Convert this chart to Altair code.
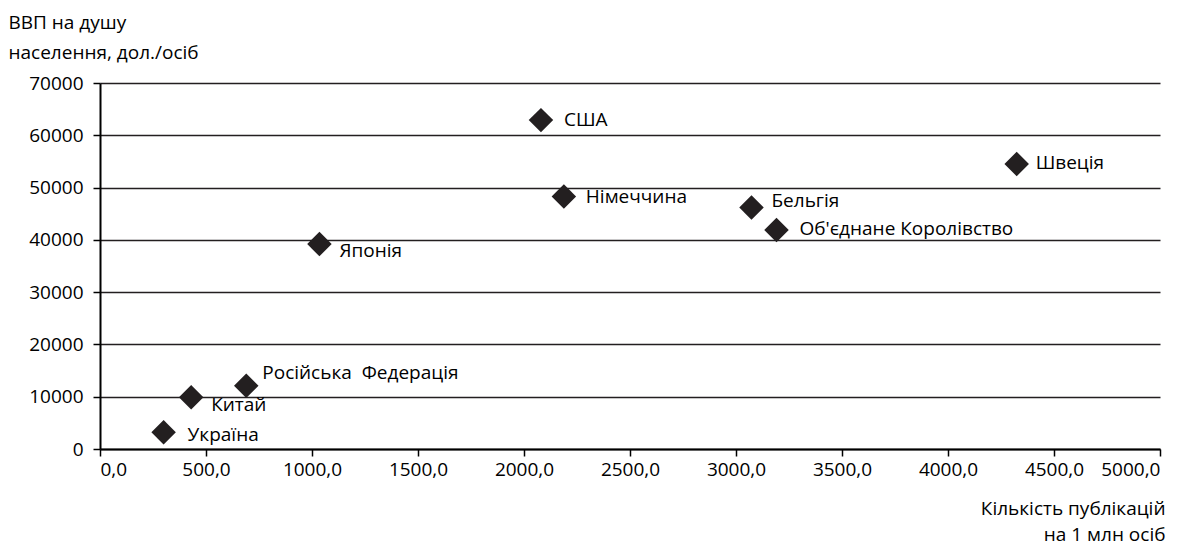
import altair as alt
import pandas as pd

countries = ["Україна", "Китай", "Російська \u00a0Федерація", "Японія", "США",
             "Німеччина", "Бельгія", "Об'єднане Королівство", "Швеція"]
publications = [300, 430, 690, 1035, 2080, 2188, 3073, 3191, 4324]
gdp = [3200, 9900, 12100, 39200, 62900, 48300, 46200, 41900, 54500]
label_dx = [24, 20, 16, 20, 23, 22, 20, 23, 19]
label_dy = [3, 8, -13, 7, 0, 1, -6, -1, -1]

x_ticks = [0, 500, 1000, 1500, 2000, 2500, 3000, 3500, 4000, 4500, 5000]
y_ticks = [0, 10000, 20000, 30000, 40000, 50000, 60000, 70000]

df = pd.DataFrame({"country": countries, "pub": publications, "gdp": gdp})

FONT = "Open Sans"
INK = "#231f20"
FS = 19

x_enc = alt.X("pub:Q", scale=alt.Scale(domain=[0, 5000], nice=False),
              axis=alt.Axis(values=x_ticks, grid=False,
                            labelExpr="replace(format(datum.value, '.1f'), '.', ',')",
                            title=["Кількість публікацій", "на 1 млн осіб"],
                            titleAnchor="end", titleAlign="right", titleX=1065, titleY=65,
                            titleBaseline="alphabetic", titleLineHeight=26,
                            tickSize=7, labelPadding=4))
y_enc = alt.Y("gdp:Q", scale=alt.Scale(domain=[0, 70000], nice=False),
              axis=alt.Axis(values=y_ticks, grid=True, format="d",
                            title=["ВВП на душу", "населення, дол./осіб"],
                            titleAngle=0, titleAlign="left", titleX=-92, titleY=-55,
                            titleBaseline="alphabetic", titleLineHeight=30,
                            tickSize=7, labelPadding=10))

points = alt.Chart(df).mark_point(shape="diamond", filled=True, size=600,
                                  color=INK, opacity=1).encode(x=x_enc, y=y_enc)

layers = [points]
for c, dx, dy in zip(countries, label_dx, label_dy):
    layers.append(
        alt.Chart(df).transform_filter(alt.datum.country == c)
        .mark_text(align="left", baseline="middle", dx=dx, dy=dy,
                   font=FONT, fontSize=FS, color="#000000")
        .encode(x="pub:Q", y="gdp:Q", text="country:N")
    )

chart = alt.layer(*layers).properties(
    width=1060, height=366,
    autosize=alt.AutoSizeParams(type="none"),
    padding={"left": 92, "top": 75, "right": 29, "bottom": 97},
).configure_view(stroke=None).configure_axis(
    labelFont=FONT, titleFont=FONT, labelFontSize=FS, titleFontSize=FS,
    labelColor="#000000", titleColor="#000000", titleFontWeight="normal",
    domainColor="#000000", domainWidth=2, tickColor="#000000", tickWidth=1.5,
    gridColor=INK, gridWidth=1.6, gridOpacity=1,
)

chart.save("out.html", embed_options={"renderer": "svg", "actions": False})
